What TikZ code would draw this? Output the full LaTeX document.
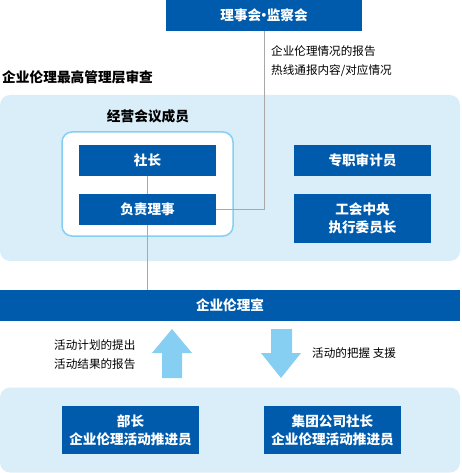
\documentclass[tikz,border=0pt]{standalone}
\usepackage{fontspec}
\setmainfont{Noto Sans CJK SC}
\usepackage{xcolor}
\usetikzlibrary{positioning}

\definecolor{darkblue}{HTML}{005BAC}
\definecolor{paleblue}{HTML}{DAEEF9}
\definecolor{skyblue}{HTML}{86CEF2}
\definecolor{linegray}{HTML}{A8A8A8}

\begin{document}
\begin{tikzpicture}[x=1pt, y=-1pt,
  role/.style={fill=darkblue, draw=none, text=white, minimum width=137pt, minimum height=#1,
               font=\fontsize{13.6}{18}\selectfont\bfseries, align=center, inner sep=0pt},
  role/.default=31pt,
  region/.style={fill=paleblue, draw=none, rounded corners=10pt, inner sep=0pt},
  note/.style={font=\fontsize{11.6}{19}\selectfont, align=left, inner sep=0pt},
  heading/.style={font=\fontsize{13.7}{17}\selectfont\bfseries, inner sep=0pt},
  link/.style={draw=linegray, line width=1pt},
  bigarrow/.style={fill=skyblue, draw=none}
]
  \useasboundingbox (0,0) rectangle (461,473);

  % regions
  \node[region, minimum width=460pt, minimum height=166pt] (mgmt) at (230,178) {};
  \node[region, minimum width=460pt, minimum height=85pt] (promo) at (230,430) {};
  \node[fill=white, draw=skyblue, line width=1.5pt, rounded corners=10pt,
        minimum width=171pt, minimum height=104pt] (members) at (147.5,184) {};

  % boxes
  \node[role, minimum width=196pt] (board) at (264,15.5) {理事会\hspace{-4pt}·\hspace{-4pt}监察会};
  \node[role] (pres) at (147.5,160.5) {社长};
  \node[role] (director) at (147.5,209.5) {负责理事};
  \node[role] (auditor) at (362.5,160.5) {专职审计员};
  \node[role=49pt] (union) at (362.5,218.5) {工会中央\\执行委员长};
  \node[role, minimum width=460pt] (office) at (230,305.5) {企业伦理室};
  \node[role=48pt] (dept) at (130.5,430) {部长\\企业伦理活动推进员};
  \node[role=48pt] (group) at (332.5,430) {集团公司社长\\企业伦理活动推进员};

  % texts
  \node[heading, anchor=west] (review) at (2,77) {企业伦理最高管理层审查};
  \node[heading] (memtitle) at (148,116) {经营会议成员};
  \node[note, anchor=west] (reports) at (271,61.5) {企业伦理情况的报告\\热线通报内容/对应情况};
  \node[note, anchor=west] (plans) at (54,354.5) {活动计划的提出\\活动结果的报告};
  \node[note, anchor=west] (support) at (312,353) {活动的把握 支援};

  % lines
  \draw[link] (board.south) |- (director.east);
  \draw[link] (pres) -- (director);
  \draw[link] (director.south) -- (director.south |- office.north);

  % block arrows
  \fill[bigarrow] (162,378) -- (162,353) -- (152,353) -- (172,329) -- (192,353)
                  -- (182,353) -- (182,378) -- cycle;
  \fill[bigarrow] (271,329) -- (271,353) -- (261,353) -- (281,378) -- (301,353)
                  -- (292,353) -- (292,329) -- cycle;
\end{tikzpicture}
\end{document}
